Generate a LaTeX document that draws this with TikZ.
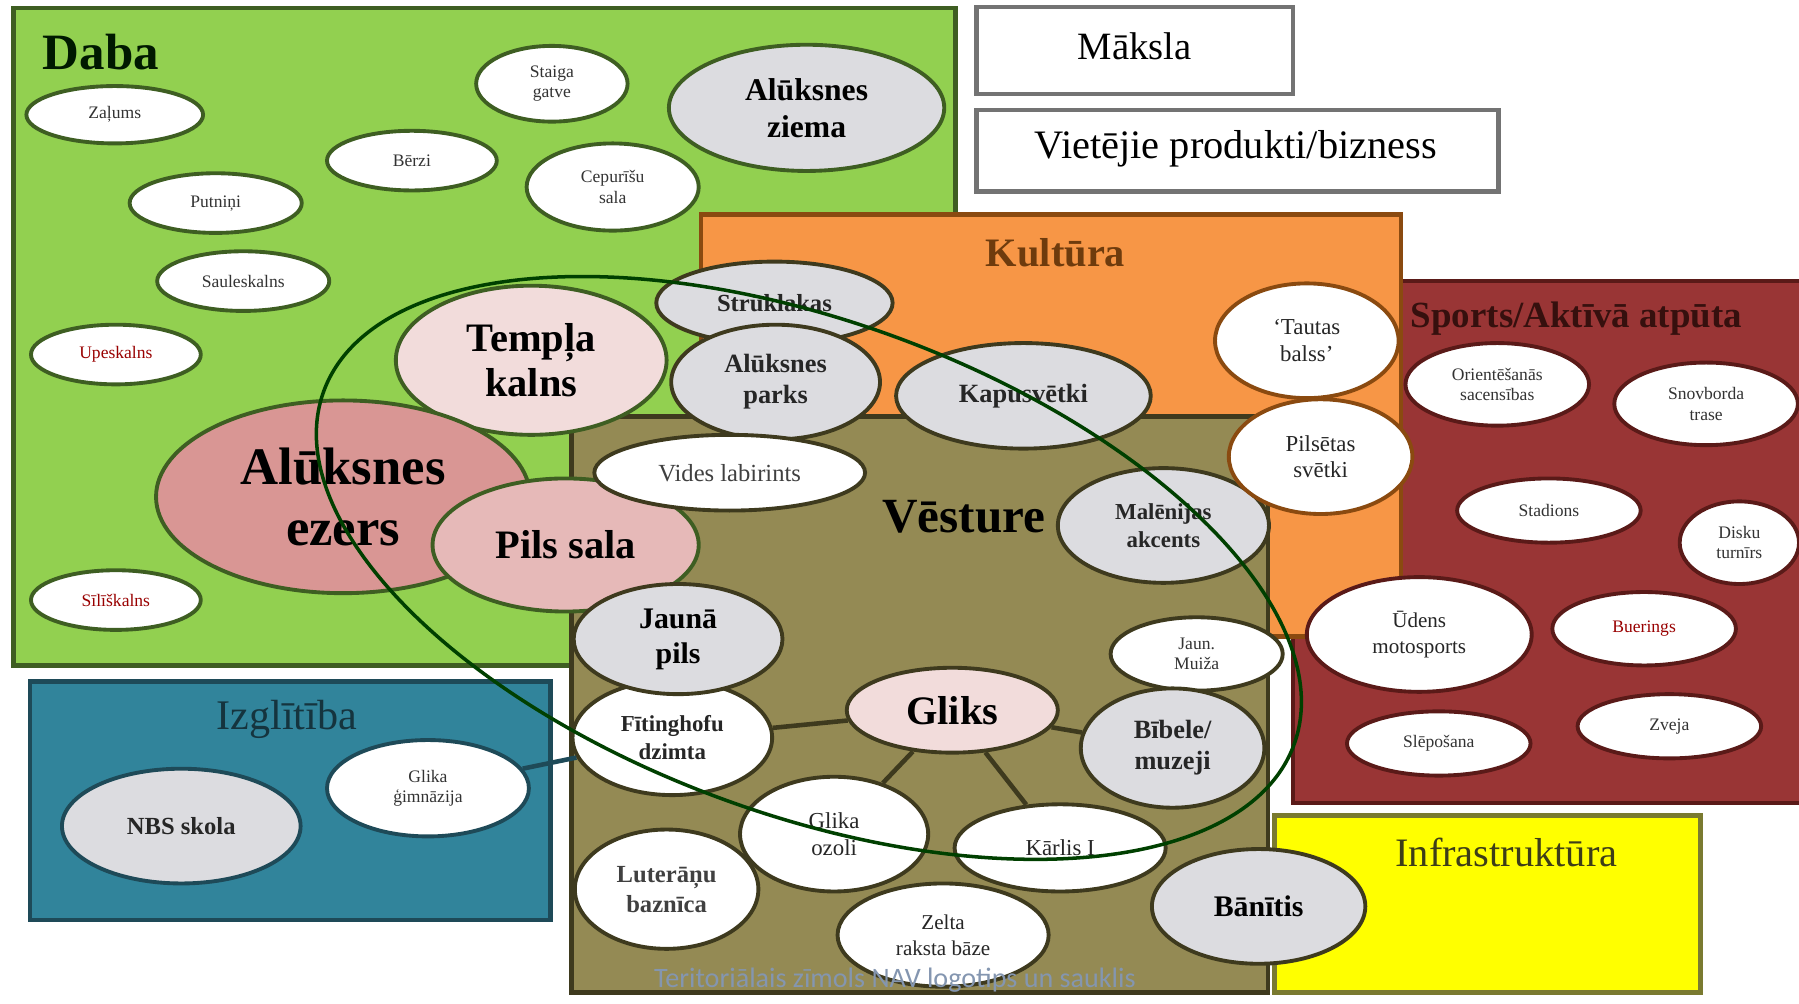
\documentclass[tikz,border=0pt]{standalone}
\usepackage{fontspec}
\setmainfont{Liberation Serif}
\newfontfamily\capfont{Carlito}
\usetikzlibrary{shapes.geometric, positioning}

\definecolor{dabafill}{HTML}{92D050}
\definecolor{dabaedge}{HTML}{3E5E22}
\definecolor{kultfill}{HTML}{F79646}
\definecolor{kultedge}{HTML}{8A4A10}
\definecolor{vestfill}{HTML}{948A54}
\definecolor{vestedge}{HTML}{3E3A1E}
\definecolor{sportfill}{HTML}{993535}
\definecolor{sportedge}{HTML}{5A1A18}
\definecolor{izglfill}{HTML}{31849B}
\definecolor{izgledge}{HTML}{1E4A58}
\definecolor{infrafill}{HTML}{FFFF00}
\definecolor{infraedge}{HTML}{7A7A30}
\definecolor{grayfill}{HTML}{DCDCE0}
\definecolor{rosefill}{HTML}{F2DCDB}
\definecolor{lakefill}{HTML}{D99694}
\definecolor{islefill}{HTML}{E6B9B8}
\definecolor{captext}{HTML}{8496B0}

\tikzset{
field/.style={line width=1.3pt}, % the coloured fields
oval/.style 2 args={ellipse, draw, line width=1.1pt, inner sep=0pt, align=center,
  minimum width=0.022946cm*#1, minimum height=0.022946cm*#2}, % half axes in sketch pixels
white oval/.style={fill=white},
gray oval/.style={fill=grayfill},
tinytxt/.style={font=\fontsize{5}{5.8}\selectfont, text=black!80},
smalltxt/.style={font=\fontsize{6.5}{7.6}\selectfont, text=black!85},
boldtxt/.style={font=\fontsize{7.5}{8.8}\selectfont\bfseries, text=black!85},
title/.style={font=\fontsize{11.5}{13}\selectfont}, % field headings
link/.style={line width=1.3pt, draw=vestedge}, % Gliks connections
}

\begin{document}
\begin{tikzpicture}[x=0.011473cm, y=-0.011473cm]
\useasboundingbox (0,0) rectangle (1568,875);
\fill[white] (0,0) rectangle (1568,875);

% fields
\draw[field, fill=dabafill, draw=dabaedge] (12,7) rectangle (833,580);
\draw[field, fill=white, draw=black!55] (851,6) rectangle (1127,82);
\draw[field, fill=white, draw=black!55] (851,96) rectangle (1306,167);
\draw[field, fill=sportfill, draw=sportedge] (1127,245) rectangle (1572,700);
\draw[field, fill=kultfill, draw=kultedge] (611,187) rectangle (1221,555);
\draw[field, fill=vestfill, draw=vestedge] (498,363) rectangle (1105,865);
\draw[field, fill=izglfill, draw=izgledge] (26,594) rectangle (480,802);
\draw[field, fill=infrafill, draw=infraedge] (1111,711) rectangle (1482,865);

% headings
\node[font=\fontsize{14.5}{16}\selectfont\bfseries, text=black!90!green] (daba) at (88,45) {Daba};
\node[title, font=\fontsize{11}{13}\selectfont] (maksla) at (989,40) {Māksla};
\node[title] (bizness) at (1077,130) {Vietējie produkti/bizness};
\node[title, font=\fontsize{11.5}{13}\selectfont\bfseries, text=kultedge!80!black] (kultura) at (920,220) {Kultūra};
\node[title, font=\fontsize{10.5}{12}\selectfont\bfseries, text=sportedge!60!black] (sports) at (1374,278) {Sports/Aktīvā atpūta};
\node[title, font=\fontsize{12}{13}\selectfont, text=izgledge!70!black] (izglitiba) at (250,627) {Izglītība};
\node[title, text=infraedge!50!black] (infra) at (1313,743) {Infrastruktūra};
\node[font=\fontsize{14}{16}\selectfont\bfseries] (vesture) at (840,450) {Vēsture};

% Daba
\begin{scope}[every node/.append style={draw=dabaedge}]
\node[oval={77}{25}, white oval, tinytxt] (zalums) at (100,100) {Zaļums};
\node[oval={66}{33}, white oval, tinytxt] (staiga) at (481,73) {Staiga\\gatve};
\node[oval={120}{55}, gray oval, font=\fontsize{9}{10.5}\selectfont\bfseries] (ziema) at (703,94) {Alūksnes\\ziema};
\node[oval={74}{26}, white oval, tinytxt] (berzi) at (359,140) {Bērzi};
\node[oval={75}{26}, white oval, tinytxt] (putnini) at (188,177) {Putniņi};
\node[oval={75}{38}, white oval, tinytxt] (cepurisu) at (534,163) {Cepurīšu\\sala};
\node[oval={75}{26}, white oval, tinytxt] (sauleskalns) at (212,245) {Sauleskalns};
\node[oval={74}{26}, white oval, tinytxt, text=red!60!black] (upeskalns) at (101,309) {Upeskalns};
\node[oval={74}{26}, white oval, tinytxt, text=red!60!black] (silkalns) at (101,523) {Sīlīškalns};
\node[oval={118}{65}, fill=rosefill, font=\fontsize{11.5}{13}\selectfont\bfseries] (templa) at (463,314) {Tempļa\\kalns};
\node[oval={163}{84}, fill=lakefill, font=\fontsize{15}{17.5}\selectfont\bfseries] (ezers) at (299,433) {Alūksnes\\ezers};
\node[oval={116}{58}, fill=islefill, font=\fontsize{11.5}{13}\selectfont\bfseries] (pilssala) at (493,475) {Pils sala};
\end{scope}

% Vesture
\begin{scope}[every node/.append style={draw=vestedge}]
\node[oval={103}{36}, gray oval, boldtxt, font=\fontsize{7}{8}\selectfont\bfseries] (struklakas) at (675,264) {Strūklakas};
\node[oval={91}{50}, gray oval, boldtxt] (parks) at (676,333) {Alūksnes\\parks};
\node[oval={111}{46}, gray oval, boldtxt] (kapusvetki) at (892,345) {Kapusvētki};
\node[oval={118}{33}, white oval, font=\fontsize{7}{8}\selectfont, text=black!75] (vides) at (636,412) {Vides labirints};
\node[oval={92}{50}, gray oval, boldtxt, font=\fontsize{6.5}{8}\selectfont\bfseries] (malenija) at (1014,458) {Malēnijas\\akcents};
\node[oval={80}{50}, white oval, smalltxt, draw=kultedge] (tautas) at (1139,297) {`Tautas\\balss'};
\node[oval={80}{50}, white oval, smalltxt, draw=kultedge] (svetki) at (1151,398) {Pilsētas\\svētki};
\node[oval={87}{50}, white oval, smalltxt, font=\fontsize{6.5}{8}\selectfont\bfseries] (fiting) at (586,643) {Fītinghofu\\dzimta};
\node[oval={91}{48}, gray oval, font=\fontsize{8.5}{10}\selectfont\bfseries] (jaunapils) at (591,557) {Jaunā\\pils};
\node[oval={75}{32}, white oval, tinytxt] (muiza) at (1043,570) {Jaun.\\Muiža};
\node[oval={92}{37}, fill=rosefill, font=\fontsize{11.5}{13}\selectfont\bfseries] (gliks) at (830,619) {Gliks};
\node[oval={80}{52}, gray oval, boldtxt] (bibele) at (1022,652) {Bībele/\\muzeji};
\node[oval={80}{52}, white oval, font=\fontsize{7}{8.5}\selectfont\bfseries, text=black!75] (luterani) at (581,775) {Luterāņu\\baznīca};
\node[oval={82}{50}, white oval, smalltxt] (ozoli) at (727,727) {Glika\\ozoli};
\node[oval={92}{38}, white oval, smalltxt] (karlis) at (924,739) {Kārlis I};
\node[oval={92}{45}, white oval, smalltxt, font=\fontsize{6}{7.5}\selectfont] (zelta) at (822,815) {Zelta\\raksta bāze};
\node[oval={93}{50}, gray oval, font=\fontsize{8.5}{10}\selectfont\bfseries] (banitis) at (1097,790) {Bānītis};
\end{scope}

% Izglitiba
\begin{scope}[every node/.append style={draw=izgledge}]
\node[oval={104}{50}, gray oval, boldtxt, font=\fontsize{7}{8}\selectfont\bfseries] (nbs) at (158,720) {NBS skola};
\node[oval={88}{42}, white oval, tinytxt] (gimnazija) at (373,687) {Glika\\ģimnāzija};
\end{scope}

% Sports
\begin{scope}[every node/.append style={draw=sportedge}]
\node[oval={80}{36}, white oval, tinytxt] (orient) at (1305,335) {Orientēšanās\\sacensības};
\node[oval={80}{36}, white oval, tinytxt] (snovbords) at (1487,352) {Snovborda\\trase};
\node[oval={80}{28}, white oval, tinytxt] (stadions) at (1350,445) {Stadions};
\node[oval={52}{36}, white oval, tinytxt] (disks) at (1516,473) {Disku\\turnīrs};
\node[oval={98}{50}, white oval, smalltxt, font=\fontsize{6}{7.5}\selectfont] (udens) at (1237,553) {Ūdens\\motosports};
\node[oval={80}{32}, white oval, tinytxt, text=red!60!black] (buerings) at (1433,548) {Buerings};
\node[oval={80}{28}, white oval, tinytxt] (slepo) at (1254,648) {Slēpošana};
\node[oval={80}{28}, white oval, tinytxt] (zveja) at (1455,633) {Zveja};
\end{scope}

% connections
\draw[link] (gliks) -- (fiting);
\draw[link] (gliks) -- (ozoli);
\draw[link] (gliks) -- (karlis);
\draw[link] (gliks) -- (bibele);
\draw[link, draw=izgledge] (gimnazija) -- (fiting);

% the big ring
\coordinate (ringc) at (705,495);
\draw[line width=1pt, draw=black!75!green] (ringc) ellipse [x radius=450, y radius=215, rotate=-20];

\node[font=\capfont\fontsize{8}{9}\selectfont, text=captext, anchor=south] (caption) at (780,876) {Teritoriālais zīmols NAV logotips un sauklis};
\end{tikzpicture}
\end{document}
